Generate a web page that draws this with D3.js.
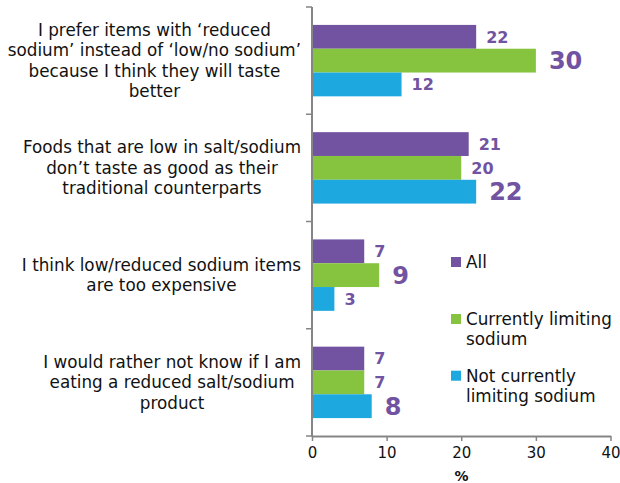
<!DOCTYPE html>
<html>
<head>
<meta charset="utf-8">
<script src="https://cdn.jsdelivr.net/npm/d3@7"></script>
<style>
  html, body { margin: 0; padding: 0; background: #fff; }
  svg { display: block; font-family: "DejaVu Sans", Verdana, sans-serif; }
</style>
</head>
<body>
<svg id="chart" width="620" height="483"></svg>
<script>
// Survey statements (one group of bars per statement)
const categories = [
  ["I prefer items with \u2018reduced", "sodium\u2019 instead of \u2018low/no sodium\u2019", "because I think they will taste", "better"],
  ["Foods that are low in salt/sodium", "don\u2019t taste as good as their", "traditional counterparts"],
  ["I think low/reduced sodium items", "are too expensive"],
  ["I would rather not know if I am", "eating a reduced salt/sodium", "product"]
];
const seriesNames = ["All", "Currently limiting sodium", "Not currently limiting sodium"];
const legendLines = [["All"], ["Currently limiting", "sodium"], ["Not currently", "limiting sodium"]];
const allValues = [22, 21, 7, 7];
const limitingValues = [30, 20, 9, 7];
const notLimitingValues = [12, 22, 3, 8];
const xTicks = [0, 10, 20, 30, 40];
const colors = ["#7153A2", "#86C440", "#1DA9E0"];

const series = [allValues, limitingValues, notLimitingValues];
const svg = d3.select("#chart");

const x0 = 312, x1 = 610.5, yTop = 7, yBottom = 436;
const x = d3.scaleLinear().domain([0, 40]).range([x0, x1]);
const y = d3.scaleBand().domain(d3.range(categories.length)).range([yTop, yBottom]);
const groupH = y.bandwidth() * 0.666;
const sub = d3.scaleBand().domain(d3.range(series.length)).range([0, groupH]);

const axisColor = "#858585";

// Bars, with the value written past each bar end (largest per group in big type)
const groups = svg.append("g").selectAll("g")
  .data(categories.map((c, i) => i))
  .join("g")
  .attr("transform", i => `translate(0,${y(i) + (y.bandwidth() - groupH) / 2})`);

groups.each(function(ci) {
  const g = d3.select(this);
  const vals = series.map(s => s[ci]);
  const maxV = d3.max(vals);
  vals.forEach((v, si) => {
    g.append("rect")
      .attr("x", x(0))
      .attr("y", sub(si))
      .attr("width", x(v) - x(0))
      .attr("height", sub.bandwidth())
      .attr("fill", colors[si]);
    const big = v === maxV;
    g.append("text")
      .attr("x", x(v) + (big ? 13 : 10))
      .attr("y", sub(si) + sub.bandwidth() / 2)
      .attr("dy", "0.36em")
      .attr("fill", "#7153A2")
      .attr("font-weight", "bold")
      .attr("font-size", big ? 24 : 16)
      .text(v);
  });
});

// Category axis (left)
const yAxis = svg.append("g");
yAxis.append("line")
  .attr("x1", x0).attr("x2", x0)
  .attr("y1", yTop).attr("y2", yBottom + 1)
  .attr("stroke", axisColor).attr("stroke-width", 2);
const boundaries = d3.range(categories.length + 1).map(i => yTop + i * y.step());
yAxis.selectAll("line.tick").data(boundaries).join("line")
  .attr("class", "tick")
  .attr("x1", x0 - 6).attr("x2", x0)
  .attr("y1", d => d).attr("y2", d => d)
  .attr("stroke", axisColor).attr("stroke-width", 1.5);

// Category labels: centred lines, block right-aligned next to the axis
const labelRight = 301;
const lineH = 20.5;
categories.forEach((lines, i) => {
  const t = svg.append("text")
    .attr("font-size", 16.8)
    .attr("fill", "#111");
  const cy = y(i) + y.bandwidth() / 2;
  const spans = lines.map((ln, k) => t.append("tspan")
    .attr("y", cy + (k - (lines.length - 1) / 2) * lineH)
    .attr("dy", "0.36em")
    .text(ln));
  const maxW = d3.max(spans, s => s.node().getComputedTextLength());
  const cx = labelRight - maxW / 2;
  t.attr("text-anchor", "middle");
  spans.forEach(s => s.attr("x", cx));
});

// Value axis (bottom)
const xAxis = d3.axisBottom(x).tickValues(xTicks).tickSize(5).tickSizeOuter(0);
const xg = svg.append("g").attr("transform", `translate(0,${yBottom})`).call(xAxis);
xg.select(".domain").attr("stroke", axisColor).attr("stroke-width", 2);
xg.selectAll(".tick line").attr("stroke", axisColor).attr("stroke-width", 1.5);
xg.selectAll(".tick text")
  .attr("font-family", "DejaVu Sans, Verdana, sans-serif")
  .attr("font-size", 15)
  .attr("fill", "#111")
  .attr("y", 11);

svg.append("text")
  .attr("x", 461.5).attr("y", 475.5)
  .attr("dy", "0.36em")
  .attr("text-anchor", "middle")
  .attr("font-weight", "bold")
  .attr("font-size", 14)
  .attr("fill", "#111")
  .text("%");

// Legend
const legendTops = [262, 319, 375.7];
legendLines.forEach((lines, i) => {
  const g = svg.append("g");
  g.append("rect")
    .attr("x", 451).attr("y", legendTops[i] - 5)
    .attr("width", 10).attr("height", 10)
    .attr("fill", colors[i]);
  const t = g.append("text")
    .attr("font-size", 16.8)
    .attr("fill", "#111");
  lines.forEach((ln, k) => t.append("tspan")
    .attr("x", 466)
    .attr("y", legendTops[i] + k * 20)
    .attr("dy", "0.36em")
    .text(ln));
});
</script>
</body>
</html>
